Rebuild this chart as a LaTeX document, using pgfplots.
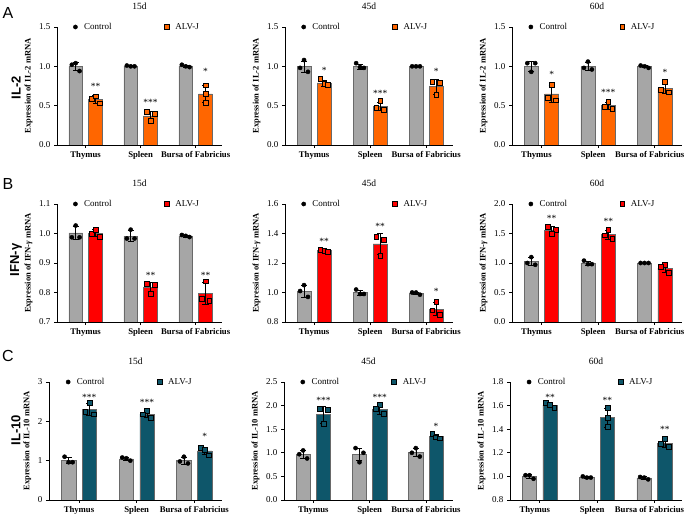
\documentclass[border=0pt]{standalone}
\usepackage{fontspec}
\setmainfont{Liberation Serif}
\newfontfamily\arial{Liberation Sans}
\usepackage{pgfplots}
\pgfplotsset{compat=1.18}
\definecolor{ctrl}{RGB}{166,166,166}
\definecolor{edge}{RGB}{105,105,105}
\definecolor{orng}{RGB}{255,102,0}
\definecolor{redd}{RGB}{255,0,0}
\definecolor{tealc}{RGB}{14,86,106}

\pgfplotsset{
  panel/.style={
    scale only axis, anchor=south west,
    axis lines=left, axis line style={-, line width=0.8pt},
    tick style={black, line width=0.8pt}, tick align=outside, major tick length=3pt,
    enlargelimits=false, xmin=-0.52, xmax=2.48,
    xtick={0,1,2}, xticklabels={Thymus,Spleen,Bursa of Fabricius},
    xticklabel style={font=\bfseries\fontsize{8.7}{10}\selectfont},
    yticklabel style={font=\fontsize{9}{10}\selectfont,
      /pgf/number format/.cd, fixed, fixed zerofill, precision=1, assume math mode=true},
    ylabel style={font=\bfseries\fontsize{8.5}{10}\selectfont},
    title style={font=\fontsize{9.5}{11}\selectfont, at={(axis description cs:0.5,1)}, anchor=base, yshift=11pt},
    legend columns=2, legend cell align=left,
    legend image code/.code={\draw[##1] plot coordinates {(0.1cm,0cm)}; \path (0cm,0cm) (0.33cm,0cm);},
    legend style={draw=none, fill=none, font=\fontsize{9}{10}\selectfont,
      at={(axis description cs:0.092,1)}, anchor=west, inner sep=0pt,
      /tikz/every even column/.append style={column sep=50pt}},
  },
  lastcol/.style={xticklabel style={xshift=-5pt}},
  ctrlbar/.style={ybar, bar width=0.25, bar shift=0pt, fill=ctrl, draw=edge, line width=0.6pt, forget plot,
    error bars/.cd, y dir=both, y explicit, error bar style={black, line width=0.6pt},
    error mark options={rotate=90, mark size=3pt, black, line width=0.6pt}},
  alvbar/.style={ybar, bar width=0.25, bar shift=0pt, fill=#1, draw=edge, line width=0.6pt, forget plot,
    error bars/.cd, y dir=both, y explicit, error bar style={black, line width=0.6pt},
    error mark options={rotate=90, mark size=3pt, black, line width=0.6pt}},
  ctrlpts/.style={only marks, mark=*, mark size=2.1pt, black},
  alvpts/.style={only marks, mark=square*, mark size=2.4pt, mark options={fill=#1, draw=black, line width=0.5pt}},
}
\tikzset{star/.style={font=\fontsize{9.5}{10}\selectfont, anchor=center, inner sep=0pt, yshift=-1pt}}

\begin{document}
\begin{tikzpicture}

% ---------------- Row A: IL-2 ----------------
\begin{axis}[panel, at={(57pt,373pt)}, width=165pt, height=118pt,
  ymin=0, ymax=1.5, ytick={0,0.5,1,1.5}, ylabel={Expression of IL-2 mRNA}, title={15d}]
\addplot[ctrlbar] coordinates {(-0.18,1.0) +- (0,0.053) (0.82,1.003) +- (0,0.006) (1.82,1.003) +- (0,0.015)};
\addplot[alvbar=orng] coordinates {(0.18,0.58) +- (0,0.046) (1.18,0.37) +- (0,0.059) (2.18,0.65) +- (0,0.11)};
\addplot[ctrlpts] coordinates {(-0.25,1.02) (-0.18,1.04) (-0.11,0.94) (0.75,1.01) (0.82,1.0) (0.89,1.0) (1.75,1.02) (1.82,1.0) (1.89,0.99)};
\addplot[alvpts=orng] coordinates {(0.11,0.59) (0.18,0.62) (0.25,0.53) (1.11,0.42) (1.18,0.31) (1.25,0.40) (2.18,0.76) (2.18,0.65) (2.18,0.54)};
\legend{Control,ALV-J}
\node[star] at (axis cs:0.18,0.752) {**};
\node[star] at (axis cs:1.18,0.553) {***};
\node[star] at (axis cs:2.18,0.943) {*};
\end{axis}

\begin{axis}[panel, at={(285pt,373pt)}, width=168pt, height=118pt,
  ymin=0, ymax=1.5, ytick={0,0.5,1,1.5}, ylabel={Expression of IL-2 mRNA}, title={45d}]
\addplot[ctrlbar] coordinates {(-0.18,1.0) +- (0,0.07) (0.82,1.0) +- (0,0.032) (1.82,1.0) +- (0,0.003)};
\addplot[alvbar=orng] coordinates {(0.18,0.79) +- (0,0.038) (1.18,0.49) +- (0,0.055) (2.18,0.74) +- (0,0.09)};
\addplot[ctrlpts] coordinates {(-0.25,0.98) (-0.18,1.08) (-0.11,0.93) (0.75,1.04) (0.82,0.99) (0.89,0.98) (1.75,1.0) (1.82,1.0) (1.89,1.0)};
\addplot[alvpts=orng] coordinates {(0.11,0.84) (0.18,0.78) (0.25,0.77) (1.11,0.47) (1.18,0.56) (1.25,0.45) (2.11,0.80) (2.25,0.79) (2.18,0.64)};
\legend{Control,ALV-J}
\node[star] at (axis cs:0.18,0.956) {*};
\node[star] at (axis cs:1.18,0.667) {***};
\node[star] at (axis cs:2.18,0.943) {*};
\end{axis}

\begin{axis}[panel, lastcol, at={(512pt,373pt)}, width=170pt, height=118pt,
  ymin=0, ymax=1.5, ytick={0,0.5,1,1.5}, ylabel={Expression of IL-2 mRNA}, title={60d}]
\addplot[ctrlbar] coordinates {(-0.18,1.0) +- (0,0.064) (0.82,1.0) +- (0,0.053) (1.82,0.997) +- (0,0.015)};
\addplot[alvbar=orng] coordinates {(0.18,0.65) +- (0,0.108) (1.18,0.50) +- (0,0.046) (2.18,0.72) +- (0,0.068)};
\addplot[ctrlpts] coordinates {(-0.25,1.04) (-0.11,1.04) (-0.18,0.93) (0.75,0.98) (0.82,1.06) (0.89,0.96) (1.75,1.01) (1.82,1.0) (1.89,0.98)};
\addplot[alvpts=orng] coordinates {(0.18,0.77) (0.11,0.60) (0.25,0.57) (1.11,0.49) (1.18,0.55) (1.25,0.46) (2.18,0.80) (2.11,0.70) (2.25,0.67)};
\legend{Control,ALV-J}
\node[star] at (axis cs:0.18,0.905) {*};
\node[star] at (axis cs:1.18,0.68) {***};
\node[star] at (axis cs:2.18,0.935) {*};
\end{axis}

% ---------------- Row B: IFN-gamma ----------------
\begin{axis}[panel, at={(57pt,196pt)}, width=165pt, height=118pt,
  ymin=0.7, ymax=1.1, ytick={0.7,0.8,0.9,1.0,1.1}, ylabel={Expression of IFN-\textit{γ} mRNA}, title={15d}]
\addplot[ctrlbar] coordinates {(-0.18,1.002) +- (0,0.021) (0.82,0.991) +- (0,0.019) (1.82,0.991) +- (0,0.004)};
\addplot[alvbar=redd] coordinates {(0.18,1.001) +- (0,0.012) (1.18,0.817) +- (0,0.019) (2.18,0.797) +- (0,0.036)};
\addplot[ctrlpts] coordinates {(-0.25,0.987) (-0.18,1.027) (-0.11,0.987) (0.75,0.983) (0.82,1.013) (0.89,0.983) (1.75,0.995) (1.82,0.992) (1.89,0.988)};
\addplot[alvpts=redd] coordinates {(0.11,0.999) (0.18,1.014) (0.25,0.99) (1.11,0.83) (1.25,0.825) (1.18,0.795) (2.18,0.838) (2.11,0.780) (2.25,0.772)};
\legend{Control,ALV-J}
\node[star] at (axis cs:1.18,0.860) {**};
\node[star] at (axis cs:2.18,0.860) {**};
\end{axis}

\begin{axis}[panel, at={(285pt,196pt)}, width=168pt, height=118pt,
  ymin=0.8, ymax=1.6, ytick={0.8,1.0,1.2,1.4,1.6}, ylabel={Expression of IFN-\textit{γ} mRNA}, title={45d}]
\addplot[ctrlbar] coordinates {(-0.18,1.01) +- (0,0.04) (0.82,1.0) +- (0,0.017) (1.82,0.995) +- (0,0.009)};
\addplot[alvbar=redd] coordinates {(0.18,1.283) +- (0,0.008) (1.18,1.33) +- (0,0.07) (2.18,0.888) +- (0,0.043)};
\addplot[ctrlpts] coordinates {(-0.25,1.01) (-0.18,1.05) (-0.11,0.97) (0.75,1.02) (0.82,0.99) (0.89,0.99) (1.75,1.0) (1.82,1.0) (1.89,0.985)};
\addplot[alvpts=redd] coordinates {(0.11,1.29) (0.18,1.285) (0.25,1.275) (1.11,1.38) (1.25,1.36) (1.18,1.25) (2.18,0.935) (2.11,0.88) (2.25,0.85)};
\legend{Control,ALV-J}
\node[star] at (axis cs:0.18,1.35) {**};
\node[star] at (axis cs:1.18,1.455) {**};
\node[star] at (axis cs:2.18,1.016) {*};
\end{axis}

\begin{axis}[panel, lastcol, at={(512pt,196pt)}, width=170pt, height=118pt,
  ymin=0, ymax=2.0, ytick={0,0.5,1,1.5,2}, ylabel={Expression of IFN-\textit{γ} mRNA}, title={60d}]
\addplot[ctrlbar] coordinates {(-0.18,1.023) +- (0,0.068) (0.82,1.0) +- (0,0.035) (1.82,1.0) +- (0,0.003)};
\addplot[alvbar=redd] coordinates {(0.18,1.56) +- (0,0.066) (1.18,1.48) +- (0,0.075) (2.18,0.913) +- (0,0.067)};
\addplot[ctrlpts] coordinates {(-0.25,1.0) (-0.18,1.1) (-0.11,0.97) (0.75,1.04) (0.82,0.98) (0.89,0.98) (1.75,1.0) (1.82,1.0) (1.89,1.0)};
\addplot[alvpts=redd] coordinates {(0.11,1.62) (0.25,1.57) (0.18,1.49) (1.18,1.56) (1.11,1.47) (1.25,1.41) (2.18,0.97) (2.11,0.93) (2.25,0.84)};
\legend{Control,ALV-J}
\node[star] at (axis cs:0.18,1.773) {**};
\node[star] at (axis cs:1.18,1.716) {**};
\end{axis}

% ---------------- Row C: IL-10 ----------------
\begin{axis}[panel, at={(49pt,18pt)}, width=173pt, height=118pt,
  ymin=0, ymax=3, ytick={0,1,2,3}, yticklabel style={/pgf/number format/precision=0},
  ylabel={Expression of IL-10 mRNA}, title={15d}]
\addplot[ctrlbar] coordinates {(-0.18,1.007) +- (0,0.081) (0.82,1.047) +- (0,0.042) (1.82,1.003) +- (0,0.087)};
\addplot[alvbar=tealc] coordinates {(0.18,2.303) +- (0,0.157) (1.18,2.183) +- (0,0.085) (2.18,1.25) +- (0,0.098)};
\addplot[ctrlpts] coordinates {(-0.25,1.1) (-0.18,0.96) (-0.11,0.96) (0.75,1.08) (0.82,1.06) (0.89,1.0) (1.82,1.1) (1.75,0.98) (1.89,0.93)};
\addplot[alvpts=tealc] coordinates {(0.18,2.48) (0.11,2.25) (0.25,2.18) (1.18,2.27) (1.11,2.18) (1.25,2.10) (2.11,1.33) (2.18,1.28) (2.25,1.14)};
\legend{Control,ALV-J}
\node[star] at (axis cs:0.18,2.646) {***};
\node[star] at (axis cs:1.18,2.519) {***};
\node[star] at (axis cs:2.18,1.631) {*};
\end{axis}

\begin{axis}[panel, at={(284pt,18pt)}, width=169pt, height=118pt,
  ymin=0, ymax=2.5, ytick={0,0.5,1,1.5,2,2.5}, ylabel={Expression of IL-10 mRNA}, title={45d}]
\addplot[ctrlbar] coordinates {(-0.18,0.967) +- (0,0.085) (0.82,0.967) +- (0,0.13) (1.82,1.007) +- (0,0.09)};
\addplot[alvbar=tealc] coordinates {(0.18,1.81) +- (0,0.18) (1.18,1.923) +- (0,0.1) (2.18,1.347) +- (0,0.047)};
\addplot[ctrlpts] coordinates {(-0.18,1.05) (-0.25,0.97) (-0.11,0.88) (0.75,1.10) (0.89,1.0) (0.82,0.80) (1.82,1.10) (1.75,1.0) (1.89,0.92)};
\addplot[alvpts=tealc] coordinates {(0.11,1.93) (0.25,1.92) (0.18,1.62) (1.18,2.02) (1.11,1.93) (1.25,1.82) (2.11,1.40) (2.18,1.33) (2.25,1.31)};
\legend{Control,ALV-J}
\node[star] at (axis cs:0.18,2.13) {***};
\node[star] at (axis cs:1.18,2.186) {***};
\node[star] at (axis cs:2.18,1.585) {*};
\end{axis}

\begin{axis}[panel, lastcol, at={(510pt,18pt)}, width=172pt, height=118pt,
  ymin=0.8, ymax=1.8, ytick={0.8,1.0,1.2,1.4,1.6,1.8}, ylabel={Expression of IL-10 mRNA}, title={60d}]
\addplot[ctrlbar] coordinates {(-0.18,1.0) +- (0,0.017) (0.82,0.993) +- (0,0.006) (1.82,0.987) +- (0,0.01)};
\addplot[alvbar=tealc] coordinates {(0.18,1.605) +- (0,0.023) (1.18,1.5) +- (0,0.08) (2.18,1.283) +- (0,0.035)};
\addplot[ctrlpts] coordinates {(-0.25,1.01) (-0.18,1.01) (-0.11,0.98) (0.75,1.0) (0.82,0.99) (0.89,0.99) (1.75,0.995) (1.82,0.99) (1.89,0.975)};
\addplot[alvpts=tealc] coordinates {(0.11,1.625) (0.18,1.61) (0.25,1.58) (1.18,1.58) (1.18,1.50) (1.18,1.42) (2.18,1.32) (2.11,1.28) (2.25,1.25)};
\legend{Control,ALV-J}
\node[star] at (axis cs:0.18,1.681) {**};
\node[star] at (axis cs:1.18,1.653) {**};
\node[star] at (axis cs:2.18,1.403) {**};
\end{axis}

% panel letters and row labels
\node[font=\arial\fontsize{16}{18}\selectfont] at (8pt,505pt) {A};
\node[font=\arial\fontsize{16}{18}\selectfont] at (8pt,334pt) {B};
\node[font=\arial\fontsize{16}{18}\selectfont] at (8pt,162pt) {C};
\node[font=\arial\bfseries\fontsize{13}{15}\selectfont, rotate=90] at (16pt,430pt) {IL-2};
\node[font=\arial\bfseries\fontsize{13}{15}\selectfont, rotate=90] at (16pt,258pt) {IFN-γ};
\node[font=\arial\bfseries\fontsize{13}{15}\selectfont, rotate=90] at (16pt,88pt) {IL-10};

\pgfresetboundingbox
\path[use as bounding box] (0pt,0pt) rectangle (685pt,518pt);
\end{tikzpicture}
\end{document}
